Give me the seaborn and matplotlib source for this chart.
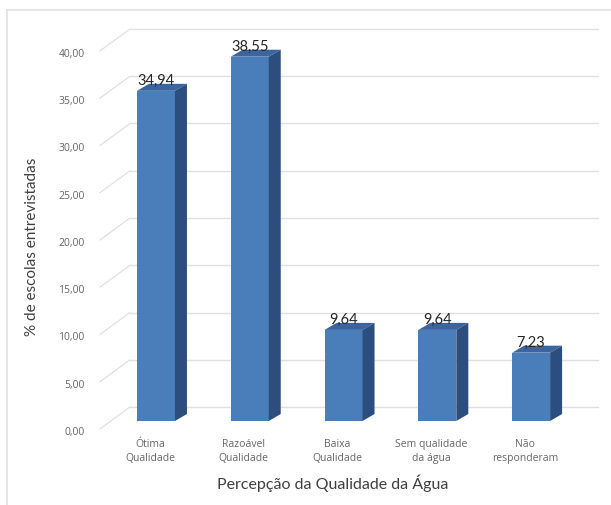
import matplotlib
matplotlib.use("Agg")
import matplotlib.pyplot as plt
import matplotlib.transforms as mtransforms
from matplotlib.patches import Polygon
from matplotlib.lines import Line2D
import numpy as np
import pandas as pd
import seaborn as sns

# Data
categories = ["Ótima\nQualidade", "Razoável\nQualidade", "Baixa\nQualidade",
              "Sem qualidade\nda água", "Não\nresponderam"]
percentages = [34.94, 38.55, 9.64, 9.64, 7.23]
y_ticks = [0, 5, 10, 15, 20, 25, 30, 35, 40]

# Colours
FRONT = "#4a7ebb"
SIDE = "#2c4e7e"
TOP = "#3a659f"
GRID = "#e0e0e0"
TEXT = "#666666"

sns.set_theme(style="white")
plt.rcParams["font.family"] = ["Lato", "DejaVu Sans"]

fig = plt.figure(figsize=(6.11, 5.06), dpi=100)
W, H = 611, 506
ax = fig.add_axes([97 / W, 1 - 431 / H, 468 / W, 378 / H])
ax.set_facecolor("none")

df = pd.DataFrame({"categoria": categories, "pct": percentages})
sns.barplot(data=df, x="categoria", y="pct", color=FRONT, saturation=1,
            width=0.405, edgecolor="none", linewidth=0, ax=ax, zorder=3)

xmin, xmax = -0.49, 4.50
ax.set_xlim(xmin, xmax)
ax.set_ylim(0, 40)
for s in ax.spines.values():
    s.set_visible(False)
ax.grid(False)
ax.set_xlabel("")
ax.set_ylabel("")

# pixel -> data unit conversions
ppx = ax.bbox.width / (xmax - xmin)
ppy = ax.bbox.height / 40.0

# bars sit slightly behind the front plane
bar_dx, bar_dy = 13, 9
shift = mtransforms.ScaledTranslation(bar_dx / 100, bar_dy / 100, fig.dpi_scale_trans)
front_tr = ax.transData + shift

# depth of each bar
ddx, ddy = 12 / ppx, 7 / ppy

for p, val in zip(list(ax.patches), percentages):
    x0, w, h = p.get_x(), p.get_width(), p.get_height()
    p.set_transform(front_tr)
    p.set_clip_on(False)
    top = Polygon([(x0, h), (x0 + w, h), (x0 + w + ddx, h + ddy), (x0 + ddx, h + ddy)],
                  closed=True, facecolor=TOP, edgecolor="none", transform=front_tr,
                  zorder=3, clip_on=False)
    side = Polygon([(x0 + w, 0), (x0 + w + ddx, ddy), (x0 + w + ddx, h + ddy), (x0 + w, h)],
                   closed=True, facecolor=SIDE, edgecolor="none", transform=front_tr,
                   zorder=3, clip_on=False)
    ax.add_patch(top)
    ax.add_patch(side)
    ax.text(x0 + w / 2, h + ddy * 0.6, f"{val:.2f}".replace(".", ","), transform=front_tr,
            ha="center", va="bottom", fontsize=10.5, color="#262626", zorder=5,
            clip_on=False)

# back wall gridlines and the wall-to-floor diagonals
bx, by = 33 / ppx, 23 / ppy
for v in y_ticks:
    ax.add_line(Line2D([xmin + bx, xmax + bx], [v + by, v + by], color=GRID, lw=1.0,
                       zorder=0.5, clip_on=False))
    ax.add_line(Line2D([xmin + 0.03, xmin + bx], [v + 0.1, v + by], color=GRID, lw=0.9,
                       zorder=0.5, clip_on=False))

# ticks
ax.set_yticks(y_ticks)
ax.set_yticklabels([f"{v:.2f}".replace(".", ",") for v in y_ticks],
                   fontfamily=["Open Sans", "DejaVu Sans"])
ax.set_xticks(np.arange(len(categories)) + 7 / ppx)
ax.set_xticklabels(categories, linespacing=1.35, fontfamily=["Open Sans", "DejaVu Sans"])
ax.tick_params(axis="y", length=0, pad=9, labelsize=7.5, labelcolor=TEXT)
ax.tick_params(axis="x", length=0, pad=6, labelsize=7.5, labelcolor=TEXT)

# axis titles
fig.text(32 / W, 1 - 247 / H, "% de escolas entrevistadas", rotation=90,
         ha="center", va="center", fontsize=11, color="#404040")
fig.text(333 / W, 1 - 483 / H, "Percepção da Qualidade da Água",
         ha="center", va="center", fontsize=11.5, color="#404040")

# outer chart frame
fig.add_artist(Line2D([7 / W, 1.0], [1 - 11 / H, 1 - 11 / H], color=GRID, lw=1.2,
                      transform=fig.transFigure))
fig.add_artist(Line2D([7 / W, 7 / W], [1 - 11 / H, 0.0], color=GRID, lw=1.2,
                      transform=fig.transFigure))

fig.savefig("out.png", dpi=100)
